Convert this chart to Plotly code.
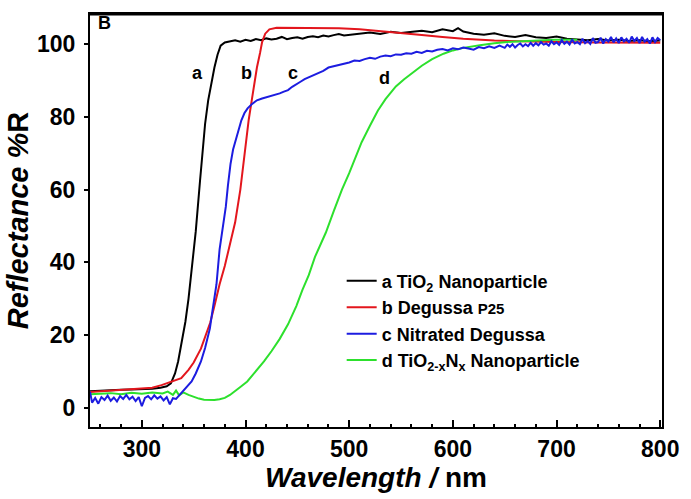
import plotly.graph_objects as go

# ---------------- data ----------------
a_x = [250, 260, 270, 280, 290, 300, 310, 318, 324, 328, 332, 335, 338, 342, 345, 347, 350, 352, 356, 359,
       361, 364, 367, 370, 373, 376, 380, 385, 390, 395, 400, 405, 410, 415, 420, 425, 430, 435, 440, 445,
       450, 455, 460, 465, 470, 475, 480, 485, 490, 495, 500, 510, 520, 530, 540, 550, 560, 570, 580, 590,
       600, 605, 610, 620, 630, 640, 650, 660, 670, 680, 690, 700, 710, 720, 730, 740, 750, 760, 770, 780,
       790, 800]
a_y = [4.6, 4.8, 5.0, 5.0, 5.1, 5.2, 5.3, 5.6, 6.0, 6.8, 9.5, 12.8, 17.5, 23.7, 30.0, 35.4, 43.0, 48.5, 62.0, 72.7,
       78.0, 84.5, 89.5, 93.5, 97.0, 99.5, 100.4, 100.8, 101.0, 100.6, 101.1, 100.8, 101.3, 101.0, 101.5, 101.2, 101.4, 101.9, 101.3, 101.6,
       101.8, 101.4, 101.9, 102.1, 101.8, 102.3, 102.0, 102.4, 102.7, 102.3, 102.5, 102.8, 103.1, 102.7, 103.3, 103.0, 103.2, 103.6, 103.2, 104.0,
       103.5, 104.3, 103.4, 102.8, 102.5, 102.9, 102.2, 101.9, 102.4, 101.8, 101.6, 102.0, 101.4, 101.2, 101.0, 101.3, 100.9, 101.1, 100.8, 101.0,
       100.7, 100.9]

b_x = [250, 260, 270, 280, 290, 300, 310, 319, 325, 330, 338, 345, 350, 357, 362, 366, 370, 375, 380, 385,
       390, 395, 398, 400, 403, 406, 409, 411, 414, 416, 419, 423, 430, 450, 470, 490, 510, 530, 550, 570,
       590, 610, 640, 670, 700, 740, 800]
b_y = [4.4, 4.6, 4.8, 5.0, 5.1, 5.3, 5.6, 6.3, 6.9, 7.4, 8.2, 10.5, 12.5, 16.3, 20.0, 23.5, 28.0, 34.0, 39.0, 45.0,
       51.0, 60.0, 67.0, 73.0, 79.0, 84.5, 90.0, 93.5, 97.5, 100.5, 102.8, 104.0, 104.4, 104.4, 104.4, 104.3, 104.0, 103.4, 102.9, 102.4,
       101.9, 101.4, 100.9, 100.6, 100.5, 100.4, 100.3]

c_x = [250, 252, 255, 258, 261, 264, 267, 270, 273, 276, 279, 282, 285, 288, 291, 294, 297, 300, 303, 306,
       309, 312, 315, 318, 321, 324, 327, 330, 333, 336, 339, 342, 345, 348, 352, 357, 361, 365.6, 368, 370,
       372, 375, 378, 381, 383, 385.5, 388, 390, 393, 396, 399, 402, 406, 411, 416, 420, 425, 430, 433, 437,
       441, 445, 449, 453, 457, 461, 465, 470, 475, 480, 485, 490, 495, 500, 505, 510, 515, 520, 525, 530,
       535, 540, 545, 550, 555, 560, 565, 570, 575, 580, 585, 590, 595, 600, 605, 610, 615, 620, 625, 630,
       635, 640, 645, 650, 652.5, 655, 657.5, 660, 662.5, 665, 667.5, 670, 672.5, 675, 677.5, 680, 682.5, 685, 687.5, 690,
       692.5, 695, 697.5, 700, 702.5, 705, 707.5, 710, 712.5, 715, 717.5, 720, 722.5, 725, 727.5, 730, 732.5, 735, 737.5, 740,
       742.5, 745, 747.5, 750, 752.5, 755, 757.5, 760, 762.5, 765, 767.5, 770, 772.5, 775, 777.5, 780, 782.5, 785, 787.5, 790,
       792.5, 795, 797.5, 800]
c_y = [4.5, 1.5, 2.8, 1.2, 3.0, 2.2, 3.4, 2.0, 2.9, 1.8, 3.3, 2.5, 3.6, 2.4, 3.1, 1.9, 3.0, 0.5, 2.8, 3.3,
       2.4, 3.5, 2.6, 3.2, 2.1, 3.0, 1.0, 2.7, 2.5, 3.5, 4.4, 5.2, 6.3, 7.3, 9.5, 12.8, 16.5, 21.8, 26.5, 30.8,
       34.0, 43.6, 49.5, 55.3, 61.0, 67.0, 71.0, 73.0, 76.5, 79.0, 81.0, 82.3, 83.4, 84.5, 85.0, 85.3, 85.8, 86.1, 86.4, 86.9,
       87.3, 88.2, 89.0, 89.6, 90.3, 90.8, 91.5, 92.0, 92.6, 93.5, 93.8, 94.3, 94.6, 94.9, 95.4, 95.3, 95.8, 96.2, 95.9, 96.5,
       96.8, 96.6, 97.1, 97.0, 97.4, 97.3, 97.8, 97.5, 98.1, 97.9, 98.4, 98.6, 98.2, 98.8, 98.5, 99.0, 98.7, 98.4, 99.1, 98.8,
       99.3, 98.9, 99.5, 98.9, 99.8, 99.2, 99.9, 99.0, 99.7, 100.1, 99.3, 99.9, 99.4, 100.3, 99.5, 100.2, 99.6, 100.5, 99.8, 100.1,
       99.5, 100.7, 99.9, 100.4, 99.7, 101.0, 100.0, 100.6, 99.8, 101.2, 100.1, 100.5, 99.9, 101.4, 100.2, 100.8, 100.0, 101.6, 100.3, 100.5,
       101.7, 100.1, 101.3, 100.6, 101.9, 100.4, 101.5, 100.2, 101.8, 100.7, 101.4, 100.3, 102.0, 100.8, 101.6, 100.2, 101.9, 100.6, 101.3, 100.1,
       101.8, 100.5, 101.6, 101.0]

d_x = [250, 260, 270, 280, 290, 300, 310, 320, 325, 330, 333, 336, 340, 345, 350, 355, 360, 365, 370, 375,
       380, 385, 390, 395, 401.7, 410, 417.8, 425, 433, 441, 449, 455, 461, 467, 472, 477.5, 485, 493, 500, 506,
       512, 520, 527.7, 535, 545, 553, 560, 570, 580, 591, 600, 610, 626, 640, 657, 670, 685, 698, 710, 720]
d_y = [3.8, 3.9, 4.1, 3.8, 4.2, 3.9, 4.3, 4.0, 4.5, 3.6, 4.8, 3.5, 4.3, 3.6, 3.0, 2.6, 2.3, 2.2, 2.2, 2.4,
       2.8, 3.6, 4.6, 5.8, 7.3, 10.0, 12.8, 15.6, 19.0, 23.0, 28.0, 32.5, 36.5, 41.5, 44.5, 48.2, 54.0, 60.0, 64.5, 69.0,
       73.0, 77.5, 81.7, 84.8, 88.3, 90.3, 91.8, 94.0, 95.8, 97.3, 98.2, 98.9, 99.6, 100.2, 100.6, 100.8, 101.0, 101.1, 101.1, 101.1]

series_names = ["a TiO<sub>2</sub> Nanoparticle",
                "b Degussa <span style='font-size:15px'>P25</span>",
                "c Nitrated Degussa",
                "d TiO<sub>2-x</sub>N<sub>x</sub> Nanoparticle"]
series_colors = ["#000000", "#e3161d", "#1c1ce0", "#2de02d"]

curve_labels = ["a", "b", "c", "d", "B"]
label_x = [354, 400.7, 446, 534, 264]
label_y = [92.1, 92.1, 92.0, 90.7, 105.7]

FONT = "Liberation Sans, Arial, sans-serif"

fig = go.Figure()
data = [(a_x, a_y, 0, 1), (b_x, b_y, 1, 2), (d_x, d_y, 3, 4), (c_x, c_y, 2, 3)]
for xs, ys, idx, rank in data:
    fig.add_trace(go.Scatter(
        x=xs, y=ys, mode="lines", name=series_names[idx], legendrank=rank,
        line=dict(color=series_colors[idx], width=2)))

for t, lx, ly in zip(curve_labels, label_x, label_y):
    fig.add_annotation(x=lx, y=ly, xref="x", yref="y", text=t, showarrow=False,
                       font=dict(family=FONT, size=18, color="black", weight="bold"))

fig.update_layout(
    width=691, height=499,
    margin=dict(l=90, r=19, t=13, b=70),
    paper_bgcolor="white", plot_bgcolor="white",
    font=dict(family=FONT, color="black"),
    showlegend=True,
    legend=dict(x=0.44, y=0.398, xanchor="left", yanchor="top",
                bgcolor="rgba(0,0,0,0)", borderwidth=0,
                font=dict(family=FONT, size=18, color="black", weight="bold"),
                tracegroupgap=0),
    xaxis=dict(range=[250, 801.7], tickmode="linear", tick0=300, dtick=100,
               ticks="inside", ticklen=7, tickwidth=1.5, tickcolor="black",
               minor=dict(dtick=20, tick0=260, ticks="inside", ticklen=3, tickwidth=2, tickcolor="black"),
               showline=True, linecolor="black", linewidth=2, mirror=True, showgrid=False, zeroline=False,
               tickfont=dict(family=FONT, size=23, color="black", weight="bold"),
               title=dict(text="<i>Wavelength /</i> nm", standoff=6,
                          font=dict(family=FONT, size=28, color="black", weight="bold"))),
    yaxis=dict(range=[-5.2, 108.2], tickmode="linear", tick0=0, dtick=20,
               ticks="outside", ticklen=4, tickwidth=1.5,
               tickcolor="black", ticklabelstandoff=4,
               showline=True, linecolor="black", linewidth=2, mirror=True, showgrid=False, zeroline=False,
               tickfont=dict(family=FONT, size=23, color="black", weight="bold"),
               title=dict(text="<i>Reflectance %</i>R", standoff=0,
                          font=dict(family=FONT, size=29, color="black", weight="bold"))),
)
# thicker top frame line
fig.add_shape(type="line", xref="paper", yref="paper", x0=0, x1=1, y0=1, y1=1,
              line=dict(color="black", width=3))

fig.write_html("out.html")
